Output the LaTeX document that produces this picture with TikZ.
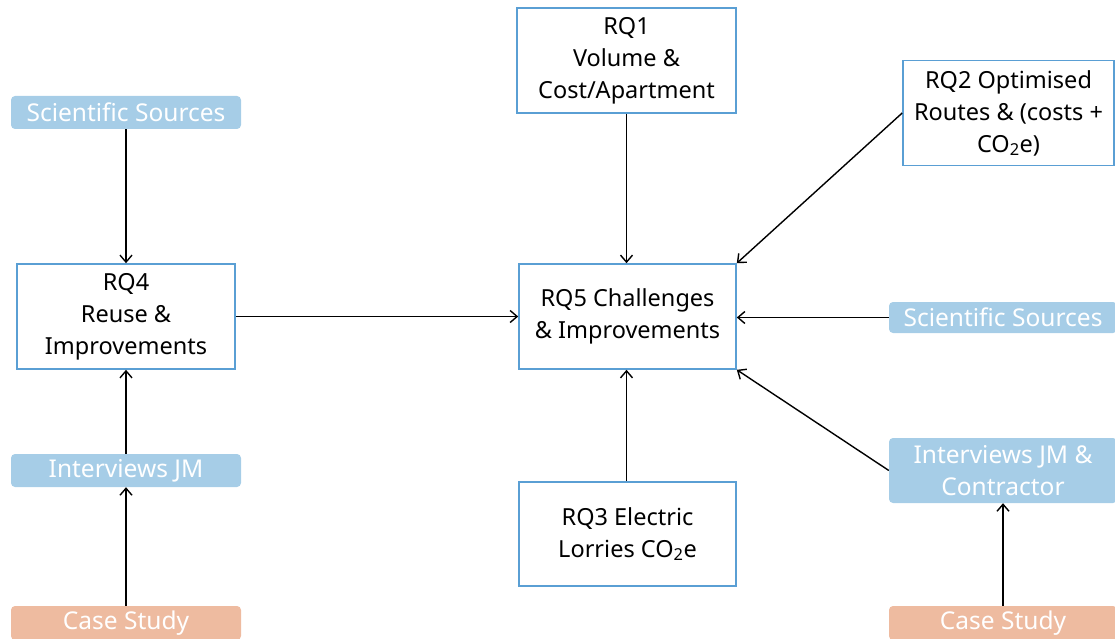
\documentclass[tikz,border=0pt]{standalone}
\usepackage{fontspec}
\setmainfont{Noto Sans}
\usetikzlibrary{arrows.meta}
\definecolor{boxblue}{HTML}{5A9FD4}
\definecolor{fillblue}{HTML}{A6CDE7}
\definecolor{fillpeach}{HTML}{EEBBA0}
\begin{document}
\begin{tikzpicture}[x=1pt,y=-1pt,
  rqbox/.style={draw=boxblue,line width=1.6pt,fill=white,inner sep=0pt,align=center,
    font=\fontsize{23.5}{32}\selectfont,text=black},
  srcbox/.style={fill=fillblue,rounded corners=4pt,inner sep=0pt,align=center,
    font=\fontsize{24.5}{32}\selectfont,text=white},
  casebox/.style={fill=fillpeach,rounded corners=4pt,inner sep=0pt,align=center,
    font=\fontsize{24.5}{32}\selectfont,text=white},
  conn/.style={draw=black,line width=1.4pt,-{Straight Barb[length=7pt,width=12pt,line width=1.4pt]}}
  ]
\useasboundingbox (0,0) rectangle (1115,639);
% RQ boxes
\node[rqbox,minimum width=219pt,minimum height=105pt] (rq1) at (626.5,60.5) {RQ1\\Volume \&\\Cost/Apartment};
\node[rqbox,minimum width=217pt,minimum height=105pt] (rq5) at (627.5,316.5) {RQ5 Challenges\\\& Improvements};
\node[rqbox,minimum width=217pt,minimum height=104pt] (rq3) at (627.5,534) {RQ3 Electric\\Lorries CO\textsubscript{2}e};
\node[rqbox,minimum width=218pt,minimum height=105pt] (rq4) at (126,316.5) {RQ4\\Reuse \&\\Improvements};
\node[rqbox,minimum width=211pt,minimum height=105pt] (rq2) at (1008.5,113) {RQ2 Optimised\\Routes \& (costs +\\CO\textsubscript{2}e)};
% sources
\node[srcbox,minimum width=230pt,minimum height=33pt] (sciL) at (126,112.5) {Scientific Sources};
\node[srcbox,minimum width=230pt,minimum height=33pt] (intL) at (126,470.5) {Interviews JM};
\node[casebox,minimum width=230pt,minimum height=34pt] (caseL) at (126,623) {Case Study};
\node[srcbox,minimum width=228pt,minimum height=31pt] (sciR) at (1003,317.5) {Scientific Sources};
\node[srcbox,minimum width=228pt,minimum height=65pt] (intR) at (1003,470.5) {Interviews JM \&\\Contractor};
\node[casebox,minimum width=228pt,minimum height=34pt] (caseR) at (1003,623) {Case Study};
% connectors
\draw[conn] (sciL.south) -- (rq4.north);
\draw[conn] (intL.north) -- (rq4.south);
\draw[conn] (caseL.north) -- (intL.south);
\draw[conn] (rq4.east) -- (rq4.east -| rq5.west);
\draw[conn] (rq1.south) -- (rq1.south |- rq5.north);
\draw[conn] (rq2.west) -- (rq5.north east);
\draw[conn] (sciR.west) -- (sciR.west -| rq5.east);
\draw[conn] (intR.west) -- (rq5.south east);
\draw[conn] (rq3.north -| rq1.south) -- (rq1.south |- rq5.south);
\draw[conn] (caseR.north) -- (intR.south);
\end{tikzpicture}
\end{document}
